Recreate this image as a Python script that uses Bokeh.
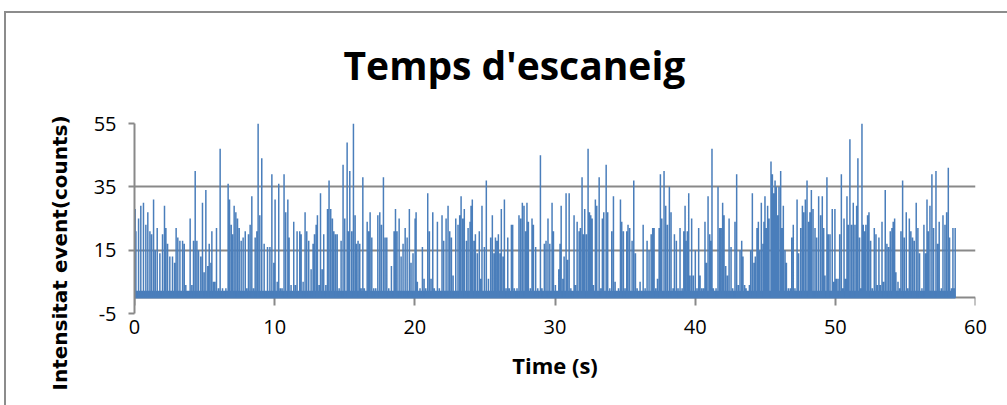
import numpy as np
from bokeh.plotting import figure
from bokeh.models import Range1d, FixedTicker, LinearAxis, Title
from bokeh.embed import file_html
from bokeh.resources import INLINE

title_text = "Temps d'escaneig"
x_label = "Time (s)"
y_label = "Intensitat event(counts)"
x_ticks = [0, 10, 20, 30, 40, 50, 60]
y_ticks = [-5, 15, 35, 55]
y_tick_labels = ["-5", "15", "35", "55"]
quiet_count = 0          # level the signal returns to between events
noise_band = [0, 2.2]    # dense low-count band seen along the bottom of the trace

# event times (s) and peak counts, in 10 s blocks
t_00_10 = [0.00, 0.05, 0.10, 0.29, 0.45, 0.64, 0.81, 0.95, 1.10, 1.22, 1.36, 1.48, 1.62, 1.81, 2.00,
           2.14, 2.24, 2.36, 2.52, 2.71, 2.86, 2.97, 3.09, 3.24, 3.43, 3.55, 3.66, 3.78, 3.97, 4.09,
           4.21, 4.33, 4.45, 4.57, 4.73, 4.85, 4.97, 5.09, 5.23, 5.33, 5.45, 5.52, 5.64, 5.73, 5.85,
           5.99, 6.11, 6.28, 6.52, 6.68, 6.78, 6.90, 6.99, 7.11, 7.23, 7.35, 7.47, 7.61, 7.75, 7.90,
           8.01, 8.13, 8.25, 8.37, 8.49, 8.61, 8.73, 8.82, 8.94, 9.08, 9.25, 9.49, 9.66, 9.80]
c_00_10 = [21, 28, 21, 25, 29, 30, 23, 27, 21, 20, 31, 15, 22, 14, 20,
           29, 22, 17, 13, 13, 11, 22, 19, 18, 18, 17, 4, 2, 25, 4,
           18, 40, 18, 15, 13, 30, 8, 34, 10, 17, 11, 21, 5, 5, 22,
           3, 47, 3, 3, 36, 31, 23, 20, 29, 27, 25, 22, 18, 19, 21,
           3, 20, 23, 32, 3, 19, 21, 55, 26, 44, 17, 16, 16, 39]

t_10_20 = [9.94, 10.03, 10.18, 10.29, 10.41, 10.53, 10.67, 10.79, 10.94, 11.03, 11.17, 11.36, 11.48,
           11.60, 11.79, 11.89, 12.03, 12.17, 12.29, 12.43, 12.60, 12.74, 12.84, 12.96, 13.05, 13.17,
           13.27, 13.39, 13.50, 13.65, 13.77, 13.88, 14.00, 14.12, 14.22, 14.34, 14.46, 14.60, 14.74,
           14.88, 15.00, 15.17, 15.26, 15.36, 15.50, 15.62, 15.74, 15.83, 15.95, 16.07, 16.17, 16.29,
           16.40, 16.60, 16.71, 16.81, 16.93, 17.07, 17.21, 17.36, 17.50, 17.62, 17.76, 17.88, 18.00,
           18.14, 18.33, 18.52, 18.62, 18.73, 18.88, 19.02, 19.16, 19.31, 19.45, 19.61, 19.73, 19.87]
c_10_20 = [11, 31, 5, 36, 3, 3, 39, 27, 31, 19, 4, 24, 4,
           21, 21, 20, 5, 27, 21, 18, 9, 17, 20, 23, 26, 4,
           33, 9, 20, 4, 28, 37, 28, 25, 21, 20, 20, 3, 18,
           42, 25, 49, 21, 40, 21, 55, 26, 17, 18, 17, 3, 38,
           3, 24, 21, 27, 19, 3, 3, 26, 27, 23, 38, 19, 19,
           3, 10, 21, 28, 21, 25, 13, 17, 22, 19, 28, 11, 14]

t_20_30 = [20.02, 20.09, 20.18, 20.37, 20.54, 20.66, 20.78, 20.92, 21.04, 21.16, 21.28, 21.39, 21.61,
           21.75, 21.94, 22.06, 22.23, 22.37, 22.49, 22.61, 22.73, 22.92, 23.08, 23.20, 23.30, 23.42,
           23.53, 23.68, 23.80, 23.94, 24.01, 24.10, 24.22, 24.32, 24.46, 24.60, 24.70, 24.79, 24.96,
           25.10, 25.25, 25.41, 25.53, 25.65, 25.75, 25.86, 25.96, 26.08, 26.17, 26.29, 26.39, 26.51,
           26.63, 26.74, 26.89, 26.98, 27.10, 27.29, 27.43, 27.55, 27.67, 27.79, 27.91, 28.00, 28.10,
           28.24, 28.36, 28.46, 28.62, 28.77, 28.96, 29.07, 29.24, 29.36, 29.50, 29.63, 29.79, 29.89]
c_20_30 = [25, 27, 5, 3, 16, 6, 3, 33, 21, 6, 27, 3, 24,
           3, 26, 18, 25, 29, 21, 19, 7, 25, 23, 26, 32, 25,
           28, 18, 22, 24, 29, 31, 18, 20, 14, 21, 6, 29, 16,
           37, 6, 19, 26, 14, 19, 18, 20, 14, 28, 13, 31, 3,
           19, 3, 23, 23, 3, 3, 26, 25, 30, 29, 21, 30, 24,
           3, 25, 23, 16, 3, 45, 3, 17, 18, 25, 17, 30, 21]

t_30_40 = [30.03, 30.27, 30.36, 30.44, 30.56, 30.65, 30.79, 30.89, 31.01, 31.13, 31.36, 31.46, 31.58,
           31.72, 31.81, 31.93, 32.03, 32.12, 32.24, 32.36, 32.46, 32.55, 32.65, 32.74, 32.88, 32.98,
           33.15, 33.27, 33.38, 33.48, 33.65, 33.76, 33.91, 34.05, 34.17, 34.29, 34.53, 34.67, 34.76,
           34.88, 35.00, 35.12, 35.21, 35.33, 35.50, 35.62, 35.74, 35.86, 36.07, 36.29, 36.43, 36.57,
           36.71, 36.86, 36.97, 37.07, 37.19, 37.31, 37.43, 37.52, 37.62, 37.78, 37.90, 38.02, 38.16,
           38.28, 38.42, 38.52, 38.66, 38.78, 38.92, 39.07, 39.19, 39.28, 39.33, 39.44, 39.54, 39.63,
           39.75, 39.87]
c_30_40 = [4, 9, 17, 29, 6, 13, 33, 12, 33, 3, 26, 4, 24,
           21, 22, 38, 20, 28, 20, 47, 27, 26, 25, 4, 31, 29,
           38, 3, 25, 27, 42, 27, 3, 21, 32, 5, 3, 31, 24,
           21, 3, 21, 23, 22, 18, 37, 14, 3, 5, 23, 3, 18,
           15, 20, 22, 22, 3, 6, 22, 39, 25, 40, 29, 23, 35,
           27, 3, 20, 18, 3, 22, 3, 21, 29, 18, 21, 33, 7,
           25, 7]

t_40_50 = [40.01, 40.13, 40.25, 40.35, 40.47, 40.59, 40.70, 40.80, 40.92, 41.04, 41.11, 41.20, 41.30,
           41.49, 41.63, 41.75, 41.85, 41.96, 42.06, 42.18, 42.30, 42.42, 42.56, 42.68, 42.84, 42.96,
           43.08, 43.20, 43.32, 43.41, 43.53, 43.63, 43.87, 43.96, 44.08, 44.20, 44.29, 44.41, 44.51,
           44.60, 44.72, 44.84, 44.91, 44.98, 45.08, 45.17, 45.27, 45.41, 45.51, 45.60, 45.70, 45.79,
           45.89, 45.98, 46.10, 46.20, 46.29, 46.41, 46.51, 46.65, 46.79, 46.89, 47.00, 47.12, 47.27,
           47.38, 47.53, 47.65, 47.74, 47.86, 47.98, 48.10, 48.19, 48.29, 48.41, 48.55, 48.67, 48.81,
           48.95, 49.07, 49.17, 49.26, 49.40, 49.50, 49.62, 49.78, 49.88, 49.97]
c_40_50 = [15, 3, 22, 7, 3, 3, 24, 11, 32, 20, 18, 47, 3,
           3, 35, 22, 22, 30, 26, 10, 7, 25, 16, 3, 24, 39,
           4, 15, 18, 13, 4, 3, 4, 15, 33, 11, 13, 22, 24,
           15, 30, 17, 24, 32, 22, 29, 25, 43, 39, 33, 37, 35,
           26, 35, 40, 22, 29, 15, 11, 3, 3, 19, 23, 3, 31,
           14, 22, 29, 27, 31, 37, 24, 27, 34, 28, 22, 19, 32,
           26, 32, 22, 7, 38, 20, 20, 28, 5, 28]

t_50_60 = [50.07, 50.19, 50.31, 50.43, 50.52, 50.62, 50.73, 50.83, 50.92, 51.04, 51.16, 51.28, 51.40,
           51.52, 51.61, 51.73, 51.80, 51.90, 51.99, 52.09, 52.18, 52.30, 52.40, 52.52, 52.64, 52.78,
           52.90, 52.99, 53.11, 53.21, 53.33, 53.44, 53.56, 53.68, 53.80, 53.92, 54.04, 54.13, 54.23,
           54.32, 54.47, 54.59, 54.68, 54.80, 54.92, 55.06, 55.16, 55.28, 55.39, 55.51, 55.63, 55.77,
           55.89, 56.01, 56.18, 56.32, 56.44, 56.54, 56.63, 56.75, 56.89, 57.01, 57.18, 57.30, 57.41,
           57.56, 57.68, 57.82, 57.94, 58.06, 58.15, 58.29, 58.39, 58.48, 58.55]
c_50_60 = [6, 6, 20, 39, 3, 25, 6, 32, 23, 50, 23, 30, 23,
           29, 44, 19, 3, 55, 23, 21, 23, 26, 27, 18, 3, 22,
           20, 4, 19, 4, 24, 5, 34, 17, 16, 21, 22, 24, 25,
           8, 5, 3, 21, 37, 19, 27, 3, 25, 21, 19, 18, 30,
           22, 14, 3, 23, 14, 31, 21, 29, 39, 22, 40, 17, 24,
           3, 26, 23, 27, 41, 19, 3, 22, 3, 22]

# --- build the trace: each event rises from the quiet level to its peak and back
event_t = np.concatenate([t_00_10, t_10_20, t_20_30, t_30_40, t_40_50, t_50_60])
event_c = np.concatenate([c_00_10, c_10_20, c_20_30, c_30_40, c_40_50, c_50_60]).astype(float)
n = len(event_t)
xs = np.repeat(event_t, 3)
ys = np.column_stack([np.full(n, quiet_count), event_c, np.full(n, quiet_count)]).ravel()

GRID = "#898989"
BLUE = "#4a7ebb"
TICK_FONT = "Open Sans"
BORDER = "#8c8c8c"

p = figure(width=1007, height=405,
           x_range=Range1d(0, 60), y_range=Range1d(-5, 55),
           output_backend="svg", toolbar_location=None,
           min_border_left=134, min_border_right=32,
           min_border_top=123, min_border_bottom=92,
           background_fill_color="white", border_fill_alpha=0,
           outline_line_color=None)

# chart-area border (left and top edges), drawn behind the transparent canvas border
p.styles = {
    "background-color": "white",
    "background-image": f"linear-gradient({BORDER}, {BORDER}), linear-gradient({BORDER}, {BORDER})",
    "background-size": "2px 100%, 100% 2px",
    "background-position": "4px 11px, 4px 11px",
    "background-repeat": "no-repeat",
}

p.add_layout(Title(text=title_text, align="left", offset=209, vertical_align="bottom",
                   standoff=66, text_font="Open Sans", text_font_size="39px",
                   text_font_style="bold", text_color="black"), "above")

# y axis
ya = p.yaxis[0]
ya.ticker = FixedTicker(ticks=y_ticks)
ya.major_label_overrides = dict(zip(y_ticks, y_tick_labels))
ya.axis_line_color = GRID
ya.axis_line_width = 2
ya.major_tick_line_color = GRID
ya.major_tick_line_width = 2
ya.major_tick_out = 6
ya.major_tick_in = 0
ya.minor_tick_line_color = None
ya.major_label_text_font = TICK_FONT
ya.major_label_text_font_size = "20px"
ya.major_label_text_color = "black"
ya.major_label_standoff = 12

p.add_layout(Title(text=y_label, align="left", offset=-77, vertical_align="bottom",
                   standoff=38, text_font="DejaVu Sans", text_font_size="20px",
                   text_font_style="bold", text_color="black"), "left")

p.ygrid[0].ticker = FixedTicker(ticks=y_ticks)
p.ygrid.grid_line_color = GRID
p.ygrid.grid_line_width = 2
p.xgrid.visible = False

# bottom axis: labels only
xa = p.xaxis[0]
xa.ticker = FixedTicker(ticks=x_ticks)
xa.axis_line_color = None
xa.major_tick_line_color = None
xa.major_tick_out = 0
xa.major_tick_in = 0
xa.minor_tick_line_color = None
xa.major_label_text_font = TICK_FONT
xa.major_label_text_font_size = "20px"
xa.major_label_text_color = "black"
xa.major_label_standoff = 6
xa.axis_label = x_label
xa.axis_label_text_font = "Open Sans"
xa.axis_label_text_font_size = "22px"
xa.axis_label_text_font_style = "bold"
xa.axis_label_text_color = "black"
xa.axis_label_standoff = 13

# horizontal axis line crossing at y = 0, with its tick marks (no labels)
zero_axis = LinearAxis(fixed_location=0, ticker=FixedTicker(ticks=x_ticks),
                       axis_line_color=GRID, axis_line_width=2,
                       major_tick_line_color=GRID, major_tick_line_width=2,
                       major_tick_out=8, major_tick_in=0,
                       minor_tick_line_color=None,
                       major_label_text_color=None, major_label_text_font_size="1px",
                       major_label_standoff=0)
zero_axis.level = "underlay"
p.add_layout(zero_axis, "below")

p.varea(x=[event_t[0], event_t[-1]], y1=[noise_band[0]] * 2, y2=[noise_band[1]] * 2,
        fill_color=BLUE)
p.line(xs, ys, line_color=BLUE, line_width=1.5)

open("out.html", "w").write(file_html(p, INLINE))
